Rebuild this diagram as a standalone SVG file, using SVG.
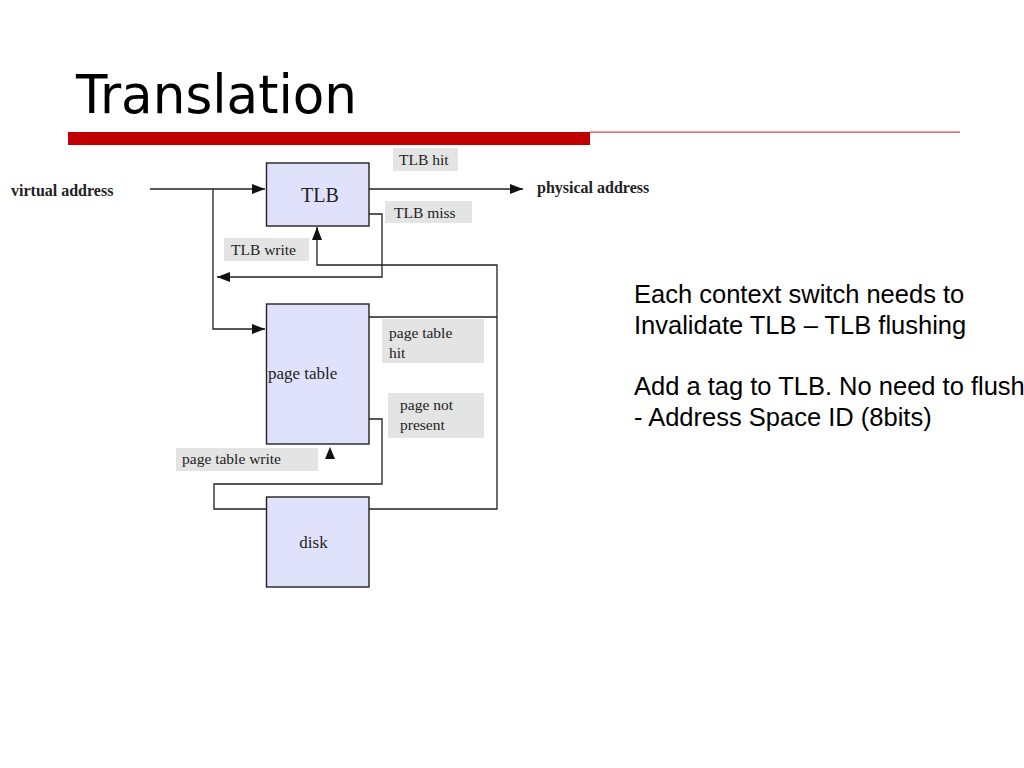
<svg xmlns="http://www.w3.org/2000/svg" width="1024" height="768" viewBox="0 0 1024 768">
<defs>
<style>
.box{fill:#e0e2fc;stroke:#222;stroke-width:1.4}
.lbl{fill:#e4e4e4}
.ser{font-family:"Liberation Serif","Times New Roman",serif;fill:#222}
.t14{font-size:15.5px}
.bold{font-weight:bold;font-size:16px}
.con{fill:none;stroke:#222;stroke-width:1.3}
.sans{font-family:"Liberation Sans",Arial,sans-serif;font-size:25.5px;fill:#000}
</style>
<marker id="ah" markerUnits="userSpaceOnUse" markerWidth="14" markerHeight="10" refX="13" refY="5" orient="auto">
<path d="M0,0 L13,5 L0,10 Z" fill="#111"/>
</marker>
</defs>
<rect width="1024" height="768" fill="#fff"/>
<g id="title">
<text x="76" y="113" font-family="'DejaVu Sans',Verdana,sans-serif" font-size="53" textLength="281" lengthAdjust="spacingAndGlyphs" fill="#000">Translation</text>
<rect x="68" y="132" width="522" height="13" fill="#c00000"/>
<rect x="590" y="131.5" width="370" height="1.2" fill="#d04040"/>
</g>
<g id="connectors">
<path class="con" d="M150,189 H265" marker-end="url(#ah)"/>
<path class="con" d="M213,189 V329 H265" marker-end="url(#ah)"/>
<path class="con" d="M369,189 H523" marker-end="url(#ah)"/>
<path class="con" d="M369,214 H382 V277 H217" marker-end="url(#ah)"/>
<path class="con" d="M369,509 H497 V265 H317 V227" marker-end="url(#ah)"/>
<path class="con" d="M369,317 H497"/>
<path class="con" d="M369,419 H382 V484 H214 V509 H266"/>
<path d="M330,447 L335,459 L325,459 Z" fill="#111"/>
</g>
<g id="virtual-address"><text class="ser bold" x="11" y="196">virtual address</text></g>
<g id="physical-address"><text class="ser bold" x="537" y="193">physical address</text></g>
<g id="tlb">
<rect class="box" x="266.5" y="163" width="102.5" height="63"/>
<text class="ser" x="320" y="202" font-size="20" text-anchor="middle">TLB</text>
</g>
<g id="page-table">
<rect class="box" x="266.5" y="304" width="102.5" height="140"/>
<text class="ser" x="268" y="379" font-size="17">page table</text>
</g>
<g id="disk">
<rect class="box" x="266.5" y="497" width="102.5" height="90"/>
<text class="ser" x="313.5" y="548" font-size="17" text-anchor="middle">disk</text>
</g>
<g id="lbl-tlb-hit">
<rect class="lbl" x="393" y="148" width="65" height="23"/>
<text class="ser t14" x="399" y="165">TLB hit</text>
</g>
<g id="lbl-tlb-miss">
<rect class="lbl" x="385" y="201" width="87" height="22"/>
<text class="ser t14" x="394" y="218">TLB miss</text>
</g>
<g id="lbl-tlb-write">
<rect class="lbl" x="224" y="238" width="85" height="23"/>
<text class="ser t14" x="231" y="255">TLB write</text>
</g>
<g id="lbl-pt-hit">
<rect class="lbl" x="382" y="319" width="102" height="44"/>
<text class="ser t14" x="389" y="338">page table</text>
<text class="ser t14" x="389" y="358">hit</text>
</g>
<g id="lbl-pnp">
<rect class="lbl" x="388" y="393" width="96" height="45"/>
<text class="ser t14" x="400" y="410">page not</text>
<text class="ser t14" x="400" y="430">present</text>
</g>
<g id="lbl-pt-write">
<rect class="lbl" x="176" y="448" width="142" height="23"/>
<text class="ser t14" x="182" y="464">page table write</text>
</g>
<g id="notes">
<text class="sans" x="634" y="303">Each context switch needs to</text>
<text class="sans" x="634" y="334">Invalidate TLB – TLB flushing</text>
<text class="sans" x="634" y="395">Add a tag to TLB. No need to flush</text>
<text class="sans" x="634" y="426">- Address Space ID (8bits)</text>
</g>
</svg>
